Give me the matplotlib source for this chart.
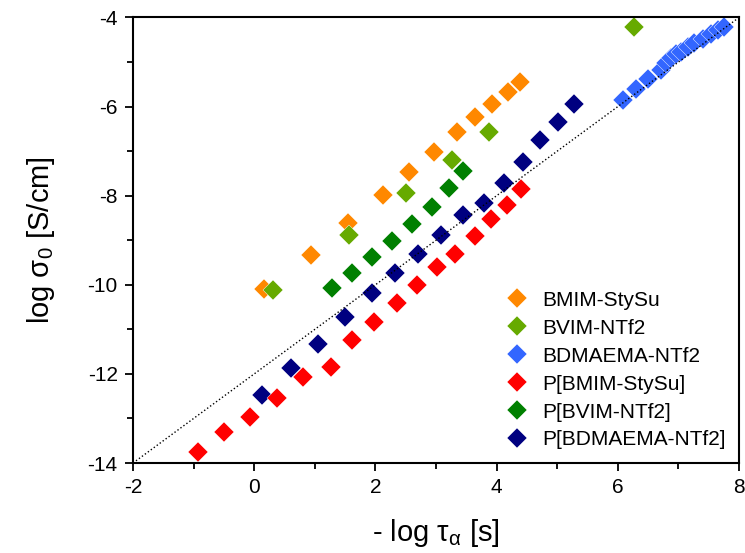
import matplotlib.pyplot as plt
import numpy as np

plt.rcParams['font.family'] = ['Liberation Sans', 'DejaVu Sans']
plt.rcParams['axes.unicode_minus'] = False

# BMIM-StySu
bmim_x = [0.17, 0.93, 1.55, 2.12, 2.56, 2.96, 3.34, 3.65, 3.93, 4.18, 4.38]
bmim_y = [-10.09, -9.33, -8.61, -7.98, -7.47, -7.02, -6.57, -6.23, -5.94, -5.67, -5.45]
# BVIM-NTf2
bvim_x = [0.31, 1.57, 2.51, 3.26, 3.88, 6.26]
bvim_y = [-10.12, -8.88, -7.94, -7.20, -6.57, -4.21]
# BDMAEMA-NTf2
bdma_x = [6.08, 6.30, 6.50, 6.71, 6.79, 6.88, 6.96, 7.04, 7.15, 7.25, 7.40, 7.54, 7.65, 7.75]
bdma_y = [-5.85, -5.61, -5.39, -5.18, -5.03, -4.92, -4.83, -4.78, -4.66, -4.58, -4.49, -4.36, -4.29, -4.21]
# P[BMIM-StySu]
pbmim_x = [-0.93, -0.50, -0.07, 0.38, 0.81, 1.27, 1.62, 1.97, 2.35, 2.69, 3.02, 3.31, 3.64, 3.90, 4.17, 4.41]
pbmim_y = [-13.75, -13.30, -12.97, -12.54, -12.07, -11.85, -11.24, -10.84, -10.41, -10.01, -9.60, -9.31, -8.90, -8.52, -8.21, -7.85]
# P[BVIM-NTf2]
pbvim_x = [1.29, 1.62, 1.95, 2.28, 2.61, 2.93, 3.21, 3.45]
pbvim_y = [-10.07, -9.74, -9.37, -9.02, -8.64, -8.25, -7.83, -7.45]
# P[BDMAEMA-NTf2]
pbdma_x = [0.13, 0.60, 1.06, 1.50, 1.95, 2.33, 2.71, 3.09, 3.45, 3.80, 4.13, 4.43, 4.71, 5.01, 5.27]
pbdma_y = [-12.47, -11.87, -11.33, -10.72, -10.18, -9.74, -9.31, -8.88, -8.43, -8.17, -7.71, -7.24, -6.75, -6.34, -5.94]

fig = plt.figure(figsize=(7.45, 5.53), dpi=100)
ax = fig.add_axes([0.1785, 0.1627, 0.8135, 0.8057])

ms = 10.5
kw = dict(ms=ms, mec='white', mew=0.3, ls='none')
ax.plot(bmim_x, bmim_y, 'D', color='#FF8800', label='BMIM-StySu', **kw)
ax.plot(bvim_x, bvim_y, 'D', color='#66AA00', label='BVIM-NTf2', **kw)
ax.plot(bdma_x, bdma_y, 'D', color='#3366FF', label='BDMAEMA-NTf2', **kw)
ax.plot(pbdma_x, pbdma_y, 'D', color='#000080', label='P[BDMAEMA-NTf2]', zorder=2, **kw)
ax.plot(pbmim_x, pbmim_y, 'D', color='#FF0000', label='P[BMIM-StySu]', zorder=2.1, **kw)
ax.plot(pbvim_x, pbvim_y, 'D', color='#008000', label='P[BVIM-NTf2]', **kw)

xl = np.array([-2, 8])
ax.plot(xl, xl - 12, color='black', ls=':', lw=1, zorder=3)

ax.set_xlim(-2, 8)
ax.set_ylim(-14, -4)
ax.set_xticks(np.arange(-2, 9, 2))
ax.set_yticks(np.arange(-14, -3, 2))
ax.set_xticks(np.arange(-2, 9, 1), minor=True)
ax.set_yticks(np.arange(-14, -3, 1), minor=True)
ax.tick_params(which='both', direction='out', top=False, right=False, width=1.3, labelsize=15)
ax.tick_params(which='major', length=6, pad=5)
ax.tick_params(which='minor', length=4)
for s in ax.spines.values():
    s.set_linewidth(1.5)

ax.set_xlabel(r'- log $\mathregular{\tau_\alpha}$ [s]', fontsize=21, labelpad=14)
ax.set_ylabel(r'log $\mathregular{\sigma_0}$ [S/cm]', fontsize=21, labelpad=22)

h, l = ax.get_legend_handles_labels()
order = [0, 1, 2, 4, 5, 3]
ax.legend([h[i] for i in order], [l[i] for i in order], loc='lower right', frameon=False,
          fontsize=15, handletextpad=0.6, labelspacing=0.43, borderaxespad=0.25, handlelength=1.2)

fig.savefig('out.png', dpi=100)
